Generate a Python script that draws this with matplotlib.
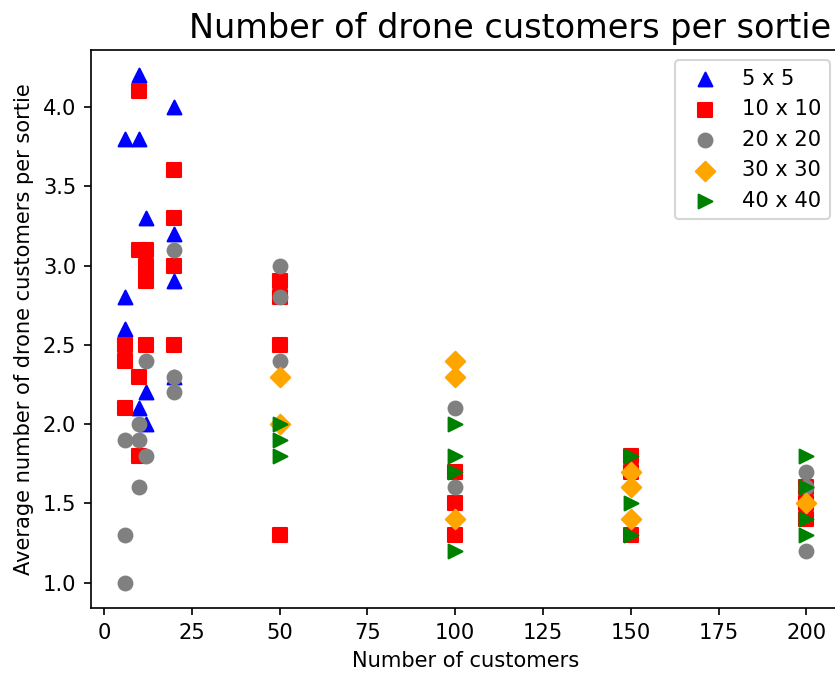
import numpy as np
import matplotlib
matplotlib.use("Agg")
import matplotlib.pyplot as plt

# average drone customers per sortie, per grid size
x_5 = [6, 6, 6, 10, 10, 10, 12, 12, 12, 20, 20, 20, 20]
y_5 = [3.8, 2.8, 2.6, 4.2, 3.8, 2.1, 3.3, 2.2, 2.0, 4.0, 3.2, 2.9, 2.3]

x_10 = [6, 6, 6, 10, 10, 10, 10, 12, 12, 12, 12, 20, 20, 20, 20,
        50, 50, 50, 50, 100, 100, 100, 150, 150, 150, 200, 200, 200]
y_10 = [2.5, 2.4, 2.1, 4.1, 3.1, 2.3, 1.8, 3.1, 3.0, 2.9, 2.5, 3.6, 3.3, 3.0, 2.5,
        2.9, 2.8, 2.5, 1.3, 1.7, 1.5, 1.3, 1.8, 1.7, 1.3, 1.6, 1.5, 1.4]

x_20 = [6, 6, 6, 10, 10, 10, 12, 12, 20, 20, 20, 50, 50, 50, 100, 100, 200, 200, 200]
y_20 = [1.9, 1.3, 1.0, 2.0, 1.9, 1.6, 2.4, 1.8, 3.1, 2.3, 2.2, 3.0, 2.8, 2.4, 2.1, 1.6, 1.7, 1.6, 1.2]

x_30 = [50, 50, 100, 100, 100, 150, 150, 150, 200]
y_30 = [2.3, 2.0, 2.4, 2.3, 1.4, 1.7, 1.6, 1.4, 1.5]

x_40 = [50, 50, 50, 100, 100, 100, 100, 150, 150, 150, 200, 200, 200, 200]
y_40 = [2.0, 1.9, 1.8, 2.0, 1.8, 1.7, 1.2, 1.8, 1.5, 1.3, 1.8, 1.6, 1.4, 1.3]

DPI = 151
fig = plt.figure(figsize=(835 / DPI, 675 / DPI), dpi=DPI)
ax = fig.add_axes([0.109, 0.0993, 0.8976, 0.8267])

ax.scatter(x_5, y_5, s=43, marker='^', color='blue', label='5 x 5')
ax.scatter(x_10, y_10, s=43, marker='s', color='red', label='10 x 10')
ax.scatter(x_20, y_20, s=43, marker='o', color='gray', label='20 x 20')
ax.scatter(x_30, y_30, s=43, marker='D', color='orange', label='30 x 30')
ax.scatter(x_40, y_40, s=43, marker='>', color='green', label='40 x 40')

ax.set_xlabel('Number of customers')
ax.set_ylabel('Average number of drone customers per sortie')
ax.legend(loc='upper right')

fig.text(189 / 835, 1 - 38 / 675, 'Number of drone customers per sortie',
         fontsize=16, ha='left', va='baseline')

fig.savefig('out.png', dpi=DPI)
